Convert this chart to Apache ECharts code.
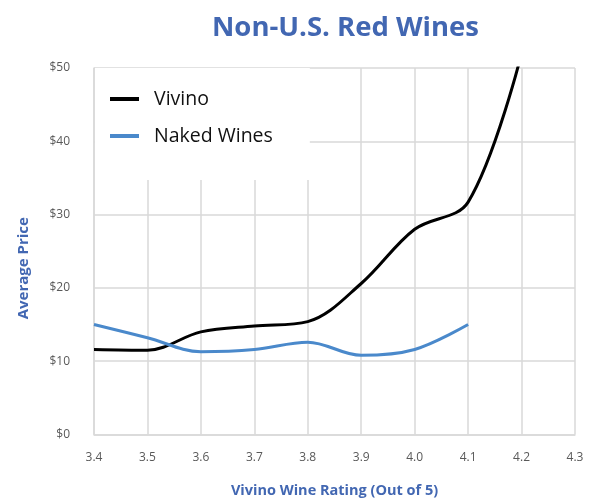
<!DOCTYPE html>
<html>
<head>
<meta charset="utf-8">
<script src="https://cdn.jsdelivr.net/npm/echarts@6/dist/echarts.min.js"></script>
<style>html,body{margin:0;padding:0;background:#fff;}#c{width:590px;height:500px;}</style>
</head>
<body>
<div id="c"></div>
<script>
const ratings = ['3.4','3.5','3.6','3.7','3.8','3.9','4.0','4.1','4.2','4.3'];
const vivino = [11.6, 11.5, 14.0, 14.8, 15.4, 20.6, 28.0, 31.7, 52];
const nakedWines = [15.0, 13.2, 11.3, 11.6, 12.6, 10.8, 11.6, 15.0];
const priceTicks = [0, 10, 20, 30, 40, 50];

const blue = '#4267b2';
const chart = echarts.init(document.getElementById('c'), null, {renderer: 'canvas'});
chart.setOption({
  animation: false,
  backgroundColor: '#fff',
  title: {
    text: 'Non-U.S. Red Wines',
    left: 207, top: 9,
    textStyle: {fontFamily: 'Open Sans', fontWeight: 'bold', fontSize: 27.5, color: blue}
  },
  legend: {
    orient: 'vertical', left: 95, top: 68,
    backgroundColor: '#fff',
    padding: [21, 37, 34, 15],
    itemGap: 17, itemWidth: 29, itemHeight: 4, icon: 'rect',
    textStyle: {fontFamily: 'Open Sans', fontSize: 19.5, color: '#111', lineHeight: 20, padding: [0, 0, 0, 10]},
    z: 10
  },
  grid: {left: 94, right: 15, top: 68, bottom: 65.5, outerBoundsMode: 'none', containLabel: false},
  xAxis: {
    type: 'category', data: ratings, boundaryGap: false,
    name: 'Vivino Wine Rating (Out of 5)', nameLocation: 'middle', nameGap: 49,
    nameTextStyle: {fontFamily: 'Open Sans', fontWeight: 'bold', fontSize: 14.5, color: blue},
    axisLine: {lineStyle: {color: '#d9d9d9', width: 1.5}},
    axisTick: {show: false},
    axisLabel: {fontFamily: 'Open Sans', fontSize: 12, color: '#595959', margin: 17},
    splitLine: {show: true, lineStyle: {color: '#d9d9d9', width: 1.5}}
  },
  yAxis: {
    type: 'value', min: priceTicks[0], max: priceTicks[priceTicks.length-1], interval: 10,
    name: 'Average Price', nameLocation: 'middle', nameGap: 63,
    nameTextStyle: {fontFamily: 'Open Sans', fontWeight: 'bold', fontSize: 15, color: blue, padding: [0, 34, 0, 0]},
    axisLine: {show: true, lineStyle: {color: '#d9d9d9', width: 1.5}},
    axisTick: {show: false},
    axisLabel: {fontFamily: 'Open Sans', fontSize: 12, color: '#595959', margin: 24, formatter: '${value}'},
    splitLine: {show: true, lineStyle: {color: '#d9d9d9', width: 1.5}}
  },
  series: [
    {name: 'Vivino', type: 'line', data: vivino, smooth: 0.35, symbol: 'none',
     lineStyle: {color: '#000', width: 3}, itemStyle: {color: '#000'}, clip: true},
    {name: 'Naked Wines', type: 'line', data: nakedWines, smooth: 0.35, symbol: 'none',
     lineStyle: {color: '#4a89cb', width: 3}, itemStyle: {color: '#4a89cb'}, clip: true}
  ]
});
</script>
</body>
</html>
